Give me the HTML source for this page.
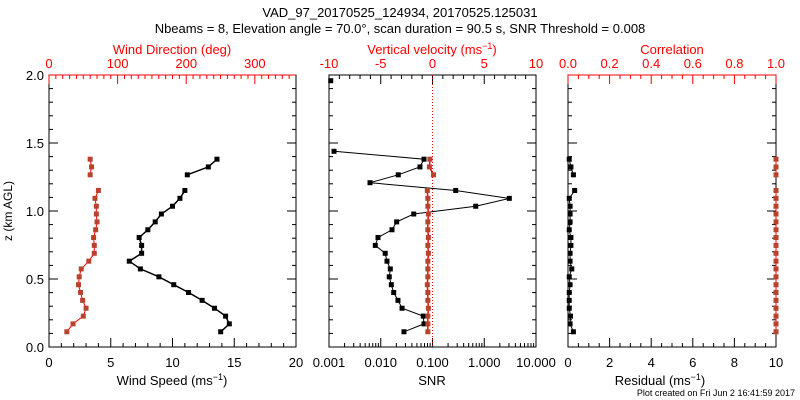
<!DOCTYPE html>
<html><head><meta charset="utf-8"><style>
html,body{margin:0;padding:0;background:#fff;}
svg{display:block;font-family:"Liberation Sans",sans-serif;}
</style></head><body>
<svg id="c" width="800" height="400" viewBox="0 0 800 400">
<text x="400" y="17" font-size="13" text-anchor="middle">VAD_97_20170525_124934, 20170525.125031</text>
<text x="400" y="33" font-size="13" text-anchor="middle">Nbeams = 8, Elevation angle = 70.0°, scan duration = 90.5 s, SNR Threshold = 0.008</text>
<text x="12" y="211" font-size="12" text-anchor="middle" transform="rotate(-90 12 211)">z (km AGL)</text>
<text x="795" y="396" font-size="9" text-anchor="end">Plot created on Fri Jun  2 16:41:59 2017</text>
</svg>
<script>
// heights (km AGL)
const zMain = [0.112,0.170,0.227,0.285,0.343,0.401,0.458,0.516,0.574,0.631,0.689,0.747,0.805,0.862,0.920,0.978,1.035,1.093,1.151,null,1.266,1.324,1.381];
const windSpeed = [13.9,14.6,14.3,13.4,12.4,11.3,10.1,8.9,7.4,6.5,7.5,7.5,7.3,8.0,8.6,9.1,10.0,10.6,11.0,null,11.2,12.9,13.6];
const windDir = [26,35,50,54,49,46,43,44,47,58,66,66,65,68,70,69,69,67,72,null,60,62,60];
const zSnr = [0.112,0.170,0.227,0.285,0.343,0.401,0.458,0.516,0.574,0.631,0.689,0.747,0.805,0.862,0.920,0.978,1.035,1.093,1.151,1.208,1.266,1.324,1.381,1.439,null,1.958];
const snr = [0.0281,0.0686,0.0664,0.0258,0.0215,0.0178,0.016,0.0146,0.0153,0.0132,0.0122,0.00785,0.00885,0.0165,0.0203,0.0434,0.684,3.05,0.281,0.0062,0.0218,0.0573,0.0686,0.00125,null,0.00108];
const wVel = [-0.45,-0.45,-0.45,-0.4,-0.45,-0.45,-0.5,-0.45,-0.45,-0.45,-0.4,-0.45,-0.4,-0.45,-0.45,-0.4,-0.45,-0.45,-0.5,null,0.1,-0.3,-0.25];
const residual = [0.26,0.1,0.12,0.06,0.06,0.06,0.1,0.06,0.18,0.1,0.1,0.14,0.14,0.06,0.1,0.1,0.1,0.06,0.32,null,0.26,0.14,0.06];
const correlation = [1,1,1,1,1,1,1,1,1,1,1,1,1,1,1,1,1,1,1,null,1,1,1];

const svg=document.getElementById('c');const NS='http://www.w3.org/2000/svg';
function mk(t,a,name,p){const e=document.createElementNS(NS,t);for(const k in a)e.setAttribute(k,a[k]);


(p||svg).appendChild(e);return e;}
const Y0=347,Y1=75;const yS=z=>Y0-(z/2)*(Y0-Y1);
const P=[{x0:49,x1:296},{x0:329,x1:536},{x0:568,x1:776}];
const lin=(p,a,b)=>v=>p.x0+(v-a)/(b-a)*(p.x1-p.x0);
const xWS=lin(P[0],0,20),xWD=lin(P[0],0,360),xW=lin(P[1],-10,10),xR=lin(P[2],0,10),xC=lin(P[2],0,1);
const xSNR=v=>P[1].x0+(Math.log10(v)+3)/4*(P[1].x1-P[1].x0);

function axes(p,i){
  mk('rect',{x:p.x0,y:Y1,width:p.x1-p.x0,height:Y0-Y1,fill:'none',stroke:'#000','stroke-width':1},'panel-frame-'+i);
  for(let z=0;z<=2.0001;z+=0.1){const y=yS(z);const maj=Math.abs(z*2-Math.round(z*2))<1e-6;const L=maj?9:4;
    mk('line',{x1:p.x0,x2:p.x0+L,y1:y,y2:y,stroke:'#000'},'y-tick');
    mk('line',{x1:p.x1,x2:p.x1-L,y1:y,y2:y,stroke:'#000'},'y-tick-right');
    if(maj&&i==0){const t=mk('text',{x:p.x0-5,y:y+5,'font-size':13,'text-anchor':'end'},'y-tick-label');t.textContent=z.toFixed(1);}
  }
}
P.forEach(axes);
function linAxis(sc,a,b,maj,min,top,col,fmt,name,lineCol){
  for(let v=a;v<=b+1e-9;v+=min){const x=sc(v);const isM=Math.abs(v/maj-Math.round(v/maj))<1e-6;const L=isM?9:4;
    const y=top?Y1:Y0;mk('line',{x1:x,x2:x,y1:y,y2:top?y+L:y-L,stroke:lineCol||col},name+'-tick');
    if(isM){const t=mk('text',{x:x,y:top?Y1-7:Y0+20,'font-size':13,'text-anchor':'middle',fill:col},name+'-tick-label');t.textContent=fmt(v);}
  }
}
linAxis(xWS,0,20,5,1,false,'#000',v=>Math.round(v),'wind-speed-axis');
linAxis(xWD,0,350,100,10,true,'#f00',v=>Math.round(v),'wind-dir-axis');
mk('line',{x1:P[0].x0,x2:P[0].x1,y1:Y1,y2:Y1,stroke:'#f00'},'wind-dir-axis-line');
linAxis(xW,-10,10,5,1,true,'#f00',v=>Math.round(v),'vert-vel-axis','#000');
linAxis(xR,0,10,2,0.5,false,'#000',v=>Math.round(v),'residual-axis');
linAxis(xC,0,1,0.2,0.05,true,'#f00',v=>v.toFixed(1),'correlation-axis');
mk('line',{x1:P[2].x0,x2:P[2].x1,y1:Y1,y2:Y1,stroke:'#f00'},'correlation-axis-line');
for(let d=-3;d<=1;d++){const x=xSNR(Math.pow(10,d));mk('line',{x1:x,x2:x,y1:Y0,y2:Y0-9,stroke:'#000'},'snr-tick');
  const t=mk('text',{x:x,y:Y0+20,'font-size':13,'text-anchor':'middle'},'snr-tick-label');t.textContent=Math.pow(10,d).toFixed(3);
  if(d<1)for(let m=2;m<10;m++){const xm=xSNR(m*Math.pow(10,d));mk('line',{x1:xm,x2:xm,y1:Y0,y2:Y0-4,stroke:'#000'},'snr-minor-tick');}}
const ttl=(x,y,txt,col,name)=>{const t=mk('text',{x:x,y:y,'font-size':13,'text-anchor':'middle',fill:col},name);t.innerHTML=txt;};
ttl(172,54,'Wind Direction (deg)','#f00','wind-dir-title');
ttl(432,54,'Vertical velocity (ms<tspan dy="-5" font-size="9">−1</tspan><tspan dy="5">)</tspan>','#f00','vert-vel-title');
ttl(672,54,'Correlation','#f00','correlation-title');
ttl(172,385,'Wind Speed (ms<tspan dy="-5" font-size="9">−1</tspan><tspan dy="5">)</tspan>','#000','wind-speed-title');
ttl(432,385,'SNR','#000','snr-title');
ttl(660,385,'Residual (ms<tspan dy="-5" font-size="9">−1</tspan><tspan dy="5">)</tspan>','#000','residual-title');
mk('line',{x1:xW(0),x2:xW(0),y1:Y1,y2:Y0,stroke:'#f00','stroke-dasharray':'1,2'},'zero-velocity-line');

function series(zs,vs,sc,lc,mc,name,lw){
  let d='',pen=false;
  zs.forEach((z,i)=>{const v=vs[i];if(z==null||v==null){pen=false;return;}d+=(pen?'L':'M')+sc(v).toFixed(1)+' '+yS(z).toFixed(1);pen=true;});
  mk('path',{d:d,fill:'none',stroke:lc,'stroke-width':lw||1},name+'-line');
  zs.forEach((z,i)=>{const v=vs[i];if(z==null||v==null)return;mk('rect',{x:sc(v)-2.5,y:yS(z)-2.5,width:5,height:5,fill:mc},name+'-point');});
}
series(zMain,windDir,xWD,'#f00','#b8432c','wind-direction');
series(zMain,windSpeed,xWS,'#000','#000','wind-speed',1.5);
series(zSnr,snr,xSNR,'#000','#000','snr');
series(zMain,wVel,xW,'#f00','#b8432c','vertical-velocity',1.5);
series(zMain,residual,xR,'#000','#000','residual');
series(zMain,correlation,xC,'#f00','#b8432c','correlation');
</script>
</body></html>
